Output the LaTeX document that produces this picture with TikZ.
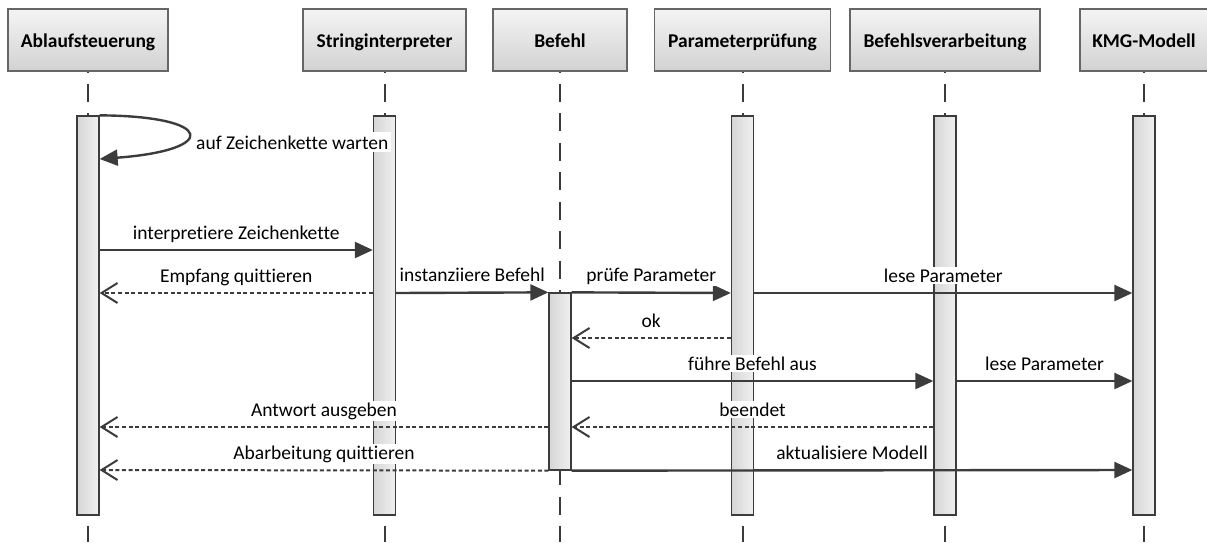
\documentclass[tikz,border=0pt]{standalone}
\usepackage{fontspec}
\setmainfont{Carlito}[Ligatures=NoCommon]
\usetikzlibrary{arrows.meta}

\definecolor{ink}{HTML}{3C3C3C}
\definecolor{frame}{HTML}{666666}
\definecolor{headtop}{HTML}{F4F4F4}
\definecolor{headbot}{HTML}{D2D2D2}
\definecolor{bargray}{HTML}{D6D6D6}
\definecolor{barlight}{HTML}{F0F0F0}

\begin{document}
\begin{tikzpicture}[x=1pt,y=-1pt,
  font=\fontsize{19.5}{23}\selectfont,
  head/.style={draw=frame, line width=1.3pt, top color=headtop, bottom color=headbot,
    minimum height=62pt, inner sep=0pt, text height=14pt, text depth=0pt,
    font=\fontsize{19.5}{23}\selectfont\bfseries},
  actbar/.style={draw=ink, line width=1.3pt, left color=bargray, right color=barlight,
    minimum width=22pt, inner sep=0pt},
  lifeline/.style={draw=ink, line width=2pt, dash pattern=on 18pt off 11.5pt, dash phase=17.5pt},
  call/.style={draw=ink, line width=2.4pt, -{Triangle[length=18pt,width=16pt]}},
  reply/.style={draw=ink, line width=2pt, dash pattern=on 4pt off 2.6pt,
    -{Straight Barb[length=16pt,width=20pt]}},
  msglabel/.style={fill=white, inner sep=1.5pt, anchor=base, yshift=11pt, text=black}
]
\useasboundingbox (0,0) rectangle (1207,542);

% participants
\node[head, minimum width=160pt] (hA) at (88,40)    {Ablaufsteuerung};
\node[head, minimum width=163pt] (hB) at (384.5,40) {Stringinterpreter};
\node[head, minimum width=134pt] (hC) at (560,40)   {Befehl};
\node[head, minimum width=176pt] (hD) at (742.5,40) {Parameterprüfung};
\node[head, minimum width=190pt] (hE) at (945,40)   {Befehlsverarbeitung};
\node[head, minimum width=128pt] (hF) at (1144,40)  {KMG-Modell};

% lifelines
\foreach \h in {hA,hB,hC,hD,hE,hF}
  \draw[lifeline] (\h.south) -- (\h.south |- 0,542);

% activation bars
\node[actbar, minimum height=399pt] (barA) at (88,315.5)    {};
\node[actbar, minimum height=399pt] (barB) at (384.5,315.5) {};
\node[actbar, minimum height=399pt] (barD) at (742.5,315.5) {};
\node[actbar, minimum height=399pt] (barE) at (945,315.5)   {};
\node[actbar, minimum height=399pt] (barF) at (1144,315.5)  {};
\node[actbar, minimum height=177pt] (barC) at (560,381.5)   {};

% self call
\draw[call] (barA.north east) .. controls (215,116) and (220,150) .. (barA.east |- 0,159);
\node[fill=white, inner sep=3pt, anchor=base west] (loopLabel) at (193,149) {auf Zeichenkette warten};

% messages
\draw[call]  (barA.east |- 0,250) -- node[msglabel]{interpretiere Zeichenkette} (barB.west |- 0,250);
\draw[reply] (barB.west |- 0,293) -- node[msglabel]{Empfang quittieren} (barA.east |- 0,293);
\draw[call]  (barB.east |- 0,293) -- node[msglabel]{instanziiere Befehl} (barC.north west);
\draw[call]  (barC.north east) -- node[msglabel]{prüfe Parameter} (barD.west |- 0,293);
\draw[call]  (barD.east |- 0,293) -- node[msglabel]{lese Parameter} (barF.west |- 0,293);
\draw[reply] (barD.west |- 0,338) -- node[msglabel]{ok} (barC.east |- 0,338);
\draw[call]  (barC.east |- 0,381) -- node[msglabel]{führe Befehl aus} (barE.west |- 0,381);
\draw[call]  (barE.east |- 0,381) -- node[msglabel]{lese Parameter} (barF.west |- 0,381);
\draw[reply] (barE.west |- 0,427) -- node[msglabel]{beendet} (barC.east |- 0,427);
\draw[reply] (barC.west |- 0,427) -- node[msglabel]{Antwort ausgeben} (barA.east |- 0,427);
\draw[reply] (barC.south west) -- node[msglabel]{Abarbeitung quittieren} (barA.east |- 0,470);
\draw[call]  (barC.south east) -- node[msglabel]{aktualisiere Modell} (barF.west |- 0,470);
\end{tikzpicture}
\end{document}
